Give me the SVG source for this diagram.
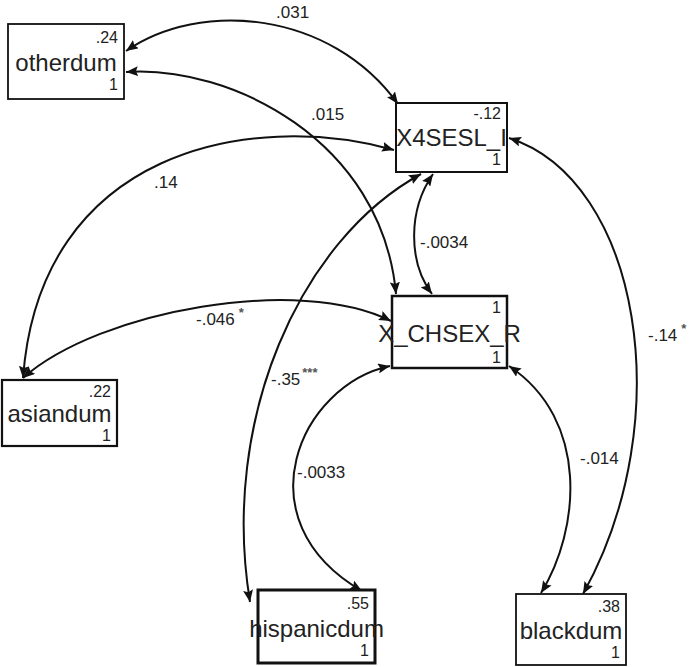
<svg xmlns="http://www.w3.org/2000/svg" width="692" height="667" viewBox="0 0 692 667">
  <defs>
    <marker id="head" viewBox="0 0 12 10" refX="12" refY="5" markerWidth="12" markerHeight="10" markerUnits="userSpaceOnUse" orient="auto-start-reverse">
      <path d="M0,0 L12,5 L0,10 L2,5 z" fill="#111"/>
    </marker>
  </defs>
  <style>
    .box { fill: #fff; stroke: #111; }
    .name { font-family: "Liberation Sans", Arial, sans-serif; font-size: 24px; fill: #222; text-anchor: middle; }
    .num { font-family: "Liberation Sans", Arial, sans-serif; font-size: 16px; fill: #222; text-anchor: end; }
    .lab { font-family: "Liberation Sans", Arial, sans-serif; font-size: 17px; fill: #222; }
    .star { font-size: 13px; fill: #555; font-weight: bold; }
    .cov { fill: none; stroke: #111; stroke-width: 2; marker-start: url(#head); marker-end: url(#head); }
  </style>
  <rect width="692" height="667" fill="#fff"/>

  <!-- covariance arcs -->
  <g id="connectors">
    <path class="cov" d="M126,51 C200,0 330,10 398,104"/>
    <path class="cov" d="M126,72 C230,65 382,140 396,294"/>
    <path class="cov" d="M394,150 C250,110 40,150 23,378"/>
    <path class="cov" d="M433,174 C408,210 408,262 432,294"/>
    <path class="cov" d="M421,174 C300,240 220,420 250,602"/>
    <path class="cov" d="M23,378 C100,310 300,275 391,321"/>
    <path class="cov" d="M390,366 C300,385 240,520 362,591"/>
    <path class="cov" d="M509,366 C590,420 580,530 541,593"/>
    <path class="cov" d="M509,138 C640,180 680,420 583,594"/>
    <text class="lab" x="276" y="18">.031</text>
    <text class="lab" x="311" y="120">.015</text>
    <text class="lab" x="154" y="188">.14</text>
    <text class="lab" x="420" y="248">-.0034</text>
    <text class="lab" x="196" y="325">-.046<tspan class="star" dx="4" dy="-8">*</tspan></text>
    <text class="lab" x="271" y="385">-.35<tspan class="star" dx="2" dy="-8">***</tspan></text>
    <text class="lab" x="297" y="478">-.0033</text>
    <text class="lab" x="580" y="464">-.014</text>
    <text class="lab" x="648" y="341">-.14<tspan class="star" dx="4" dy="-8">*</tspan></text>
  </g>

  <g id="otherdum">
    <rect class="box" x="8" y="24" width="116" height="75" stroke-width="1.8" stroke="#333"/>
    <text class="num" x="118" y="43">.24</text>
    <text class="name" x="66" y="71">otherdum</text>
    <text class="num" x="118" y="90">1</text>
  </g>

  <g id="X4SESL_I">
    <rect class="box" x="396" y="103" width="111" height="69" stroke-width="2"/>
    <text class="num" x="501" y="119">-.12</text>
    <text class="name" x="451.5" y="146">X4SESL_I</text>
    <text class="num" x="501" y="165">1</text>
  </g>

  <g id="X_CHSEX_R">
    <rect class="box" x="392" y="296" width="115" height="72" stroke-width="2.5"/>
    <text class="num" x="501" y="313">1</text>
    <text class="name" x="449.5" y="342">X_CHSEX_R</text>
    <text class="num" x="501" y="363">1</text>
  </g>

  <g id="asiandum">
    <rect class="box" x="2" y="380" width="115" height="66" stroke-width="2.2"/>
    <text class="num" x="111" y="397">.22</text>
    <text class="name" x="59.5" y="422">asiandum</text>
    <text class="num" x="111" y="441">1</text>
  </g>

  <g id="hispanicdum">
    <rect class="box" x="258" y="590" width="117" height="73" stroke-width="3"/>
    <text class="num" x="369" y="609">.55</text>
    <text class="name" x="316.5" y="637">hispanicdum</text>
    <text class="num" x="369" y="656">1</text>
  </g>

  <g id="blackdum">
    <rect class="box" x="516" y="594" width="110" height="71" stroke-width="1.8" stroke="#333"/>
    <text class="num" x="620" y="612">.38</text>
    <text class="name" x="571" y="639">blackdum</text>
    <text class="num" x="620" y="658">1</text>
  </g>
</svg>
